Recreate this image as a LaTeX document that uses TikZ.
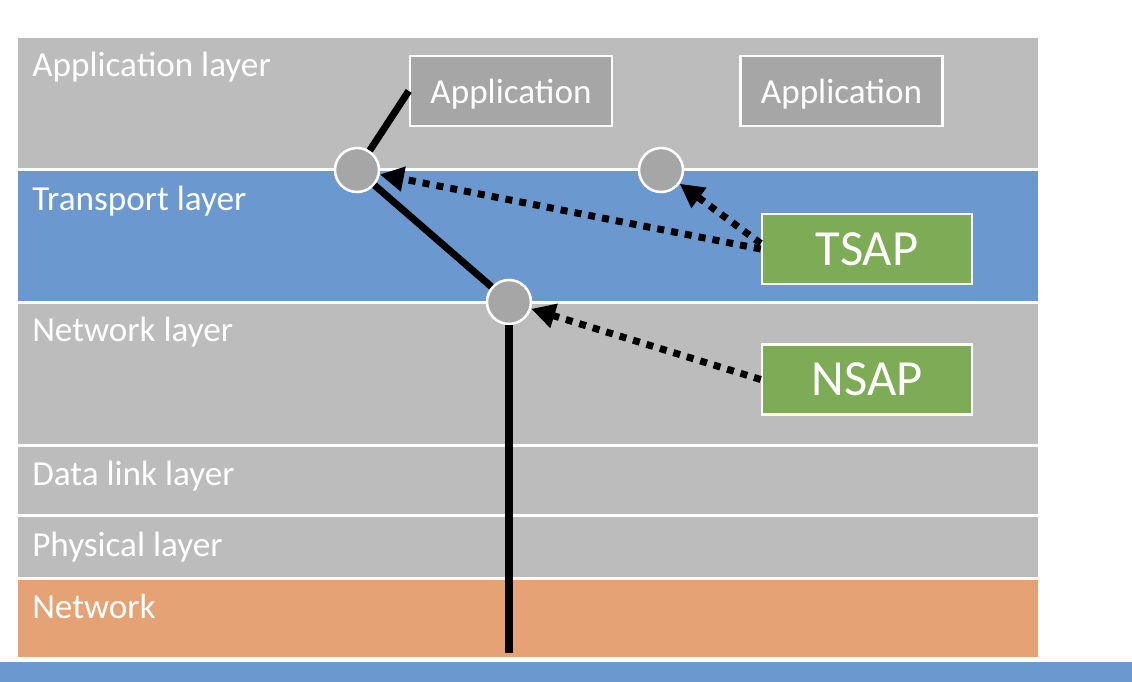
\documentclass[tikz,border=0pt]{standalone}
\usepackage{fontspec}
\setmainfont{Carlito}
\usetikzlibrary{arrows.meta}
\definecolor{bandgray}{HTML}{BCBCBC}
\definecolor{bandblue}{HTML}{6A98CF}
\definecolor{bandorange}{HTML}{E5A274}
\definecolor{boxgray}{HTML}{A6A6A6}
\definecolor{sapgreen}{HTML}{7DAB56}
\tikzset{
  layerlabel/.style={anchor=base west,inner sep=0pt,text=white,font=\fontsize{25}{30}\selectfont},
  appbox/.style={draw=white,line width=1.8pt,fill=boxgray,text=white,inner sep=0pt,
    minimum width=5.05cm,minimum height=1.75cm,text depth=0pt,font=\fontsize{25}{30}\selectfont},
  sapbox/.style={draw=white,line width=1.8pt,fill=sapgreen,text=white,inner sep=0pt,
    minimum width=5.25cm,minimum height=1.75cm,font=\fontsize{36}{42}\selectfont},
  sappoint/.style={circle,draw=white,line width=1.8pt,fill=boxgray,minimum size=1.1cm,inner sep=0pt},
  link/.style={line width=5pt},
  pointer/.style={line width=5pt,dash pattern=on 5pt off 5pt,-{Triangle[length=17pt,width=17pt]}}
}
\begin{document}
\begin{tikzpicture}[x=0.025cm,y=-0.025cm]
\useasboundingbox (0,0) rectangle (1132,682);
\fill[white] (0,0) rectangle (1132,682);
\fill[bandgray] (18,38) rectangle (1038,168);
\fill[bandblue] (18,171) rectangle (1038,301);
\fill[bandgray] (18,304) rectangle (1038,444);
\fill[bandgray] (18,447) rectangle (1038,514);
\fill[bandgray] (18,517) rectangle (1038,577);
\fill[bandorange] (18,580) rectangle (1038,657);
\fill[bandblue] (0,662) rectangle (1132,682);
\node[layerlabel] (lapp) at (32,77) {Application layer};
\node[layerlabel] (ltrans) at (32,211) {Transport layer};
\node[layerlabel] (lnet) at (32,342) {Network layer};
\node[layerlabel] (llink) at (32,485) {Data link layer};
\node[layerlabel] (lphys) at (32,556) {Physical layer};
\node[layerlabel] (lwire) at (32,618) {Network};
\node[appbox] (app1) at (511,91) {Application};
\node[appbox] (app2) at (841.5,91) {Application};
\node[sapbox] (tsap) at (867,249) {TSAP};
\node[sapbox] (nsap) at (867,379.5) {NSAP};
\node[sappoint] (tp1) at (357,170) {};
\node[sappoint] (tp2) at (661,170) {};
\node[sappoint] (np) at (509,302) {};
\coordinate (wire) at (509,653);
\draw[link] (app1.west) -- (tp1);
\draw[link] (tp1) -- (np);
\draw[link] (np.south) -- (wire);
\draw[pointer] (tsap.west) -- (tp1);
\draw[pointer] ([yshift=4pt]tsap.west) -- (tp2);
\draw[pointer] (nsap.west) -- (np);
\end{tikzpicture}
\end{document}
